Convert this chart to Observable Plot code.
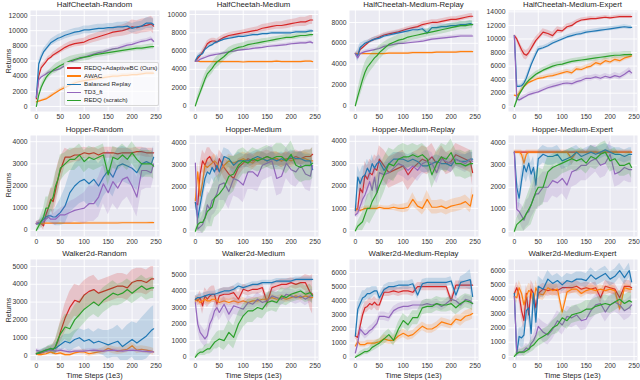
<!DOCTYPE html>
<html><head><meta charset="utf-8">
<script src="https://cdn.jsdelivr.net/npm/d3@7"></script>
<script src="https://cdn.jsdelivr.net/npm/@observablehq/plot@0.6"></script>
<style>
body{margin:0;background:#fff;font-family:"Liberation Sans",Arial,sans-serif;}
#chart{position:relative;width:640px;height:380px;overflow:hidden;background:#fff;}
.ttl{position:absolute;font-size:7.8px;line-height:9px;color:#262626;text-align:center;white-space:nowrap;}
.ylab{position:absolute;font-size:7px;color:#262626;white-space:nowrap;transform:translate(-50%,-50%) rotate(-90deg);}
.xlab{position:absolute;font-size:7.4px;line-height:9px;color:#262626;text-align:center;white-space:nowrap;}
#legend{position:absolute;left:64px;top:62px;width:93px;padding:1px 0;background:rgba(255,255,255,0.72);border:0.5px solid #d8d8d8;border-radius:2px;}
.li{height:8.1px;font-size:6.2px;line-height:8.1px;color:#262626;white-space:nowrap;position:relative;padding-left:19px;}
.li span{position:absolute;left:2px;top:3.4px;width:14px;height:1.4px;}
</style></head><body><div id="chart"></div>
<script>
const steps = [0,5,10,15,20,25,30,35,40,45,50,60,70,80,90,100,110,120,130,140,150,160,170,180,190,200,210,220,230,240,245];
const xTicks = [0,50,100,150,200,250];
const seriesNames = ["REDQ+AdaptiveBC (Ours)","AWAC","Balanced Replay","TD3_ft","REDQ (scratch)"];
const seriesColors = ["#d62728","#ff7f0e","#1f77b4","#9467bd","#2ca02c"];
const panelTitles = ["HalfCheetah-Random","HalfCheetah-Medium","HalfCheetah-Medium-Replay","HalfCheetah-Medium-Expert","Hopper-Random","Hopper-Medium","Hopper-Medium-Replay","Hopper-Medium-Expert","Walker2d-Random","Walker2d-Medium","Walker2d-Medium-Replay","Walker2d-Medium-Expert"];

// series order in each mean/sd list: Ours, AWAC, Balanced Replay, TD3_ft, REDQ (scratch)
const hcRandomMean = [
[1000,4000,5100,5500,5900,6300,6500,6800,7000,7200,7400,7800,8100,8300,8400,8500,8800,9000,9200,9400,9600,9800,9900,10000,10200,10500,10400,10600,10700,10900,10600],
[600,700,800,900,1000,1200,1400,1600,1800,2000,2200,2500,2800,3100,3300,3400,3500,3600,3700,3800,3900,4000,4000,4100,4100,4200,4200,4300,4400,4400,4400],
[1200,5600,6500,7200,7600,8000,8400,8600,8800,9000,9100,9400,9600,9800,9900,10100,10100,10200,10300,10300,10400,10400,10500,10500,10600,10300,10500,10600,11000,11000,10800],
[1200,3500,3900,4100,4300,4500,4600,4700,4800,4900,5000,5400,5800,6100,6300,6500,6700,6900,7100,7200,7400,7600,7700,7900,8100,8200,8400,8600,8700,8900,8600],
[0,1500,2500,3200,3800,4200,4500,4800,5000,5200,5400,5700,6000,6200,6400,6500,6600,6800,6900,7000,7100,7200,7300,7400,7500,7600,7700,7700,7800,7900,7900]];
const hcRandomSd = [
[200,300,300,300,300,300,300,350,350,400,400,400,450,450,500,500,550,550,600,600,650,700,700,750,800,900,900,900,950,1000,1000],
[100,100,100,150,150,150,200,200,200,200,200,200,200,250,250,250,250,250,250,250,250,250,250,250,250,250,250,250,250,250,250],
[200,400,400,400,400,400,450,450,450,450,500,500,500,500,500,500,500,550,550,550,550,550,600,600,600,650,650,650,700,700,700],
[100,200,200,200,200,200,200,200,200,200,250,250,250,250,250,250,250,250,250,250,250,250,250,250,250,250,250,250,250,300,300],
[100,300,400,400,500,500,500,500,600,600,600,600,600,550,500,500,500,450,400,400,400,400,350,350,350,350,350,350,350,350,350]];
const hcMediumMean = [
[4900,5200,5500,5900,6300,6800,7000,7100,7100,7000,7200,7500,7700,7800,7900,8000,8100,8200,8300,8500,8600,8700,8800,8800,8900,9000,9100,9200,9200,9400,9400],
[4900,4900,4850,4850,4850,4850,4850,4850,4850,4850,4850,4850,4850,4850,4850,4800,4850,4850,4850,4850,4850,4850,4900,4850,4850,4850,4850,4850,4900,4900,4850],
[4900,5400,5600,5700,6200,6400,6600,6700,6900,7000,7100,7300,7400,7500,7600,7600,7700,7800,7800,7900,7900,8000,8000,8000,8000,8000,8100,8100,8100,8200,8200],
[4900,4900,5100,5200,5300,5400,5500,5550,5600,5650,5700,5800,5900,6000,6100,6150,6200,6300,6350,6400,6500,6550,6600,6650,6700,6800,6850,6900,6900,7000,6900],
[0,800,1500,2200,2900,3500,3800,4100,4500,4800,5000,5400,5900,6200,6400,6500,6700,6800,6900,7000,7100,7200,7300,7400,7500,7500,7600,7700,7700,7800,7800]];
const hcMediumSd = [
[100,200,200,300,300,300,300,300,300,300,300,300,300,300,300,300,350,350,350,400,400,400,400,400,450,450,450,500,500,500,500],
[80,80,80,80,80,80,80,80,80,80,80,80,80,80,80,80,80,80,80,80,80,80,80,80,80,80,80,80,80,80,80],
[100,200,200,200,200,200,200,200,200,150,150,150,150,150,150,150,150,150,150,150,150,150,150,150,150,150,150,150,150,150,150],
[100,150,150,150,150,150,150,150,150,150,150,150,150,150,150,150,150,150,150,150,150,150,150,150,150,150,150,150,150,150,150],
[100,400,500,600,600,600,600,600,600,600,600,500,500,450,400,400,400,350,350,350,300,300,300,300,300,300,300,300,300,300,300]];
const hcReplayMean = [
[5000,4900,5400,5600,5800,6000,6200,6300,6400,6500,6600,6800,6900,7000,7100,7250,7400,7500,7600,7800,7900,8000,8000,8100,8200,8300,8300,8400,8500,8600,8600],
[5000,5000,5000,5000,5000,5000,5000,5000,5000,5000,5000,5000,5050,5050,5050,5050,5050,5100,5100,5100,5100,5100,5150,5150,5150,5150,5150,5200,5200,5200,5200],
[5000,4800,5600,5800,6000,6100,6200,6300,6400,6450,6500,6700,6800,6900,7000,7100,7200,7300,7300,7400,7000,7500,7500,7600,7600,7700,7700,7800,7800,7900,7800],
[5000,4600,5000,5100,5200,5250,5300,5350,5400,5450,5500,5700,5800,5900,6000,6000,6050,6100,6150,6200,6300,6400,6450,6500,6550,6600,6650,6700,6700,6700,6700],
[0,900,1700,2500,3200,3700,4000,4300,4600,4800,5100,5500,5900,6100,6300,6400,6600,6700,6800,6900,7000,7100,7200,7300,7400,7500,7600,7700,7700,7800,7800]];
const hcReplaySd = [
[100,300,200,200,200,200,200,200,200,200,200,200,200,200,200,200,200,200,200,250,250,250,250,250,250,250,250,250,250,250,250],
[80,80,80,80,80,80,80,80,80,80,80,80,80,80,80,80,80,80,80,80,80,80,80,80,80,80,80,80,80,80,80],
[100,600,400,300,250,200,200,200,200,200,200,200,200,200,200,200,200,200,200,200,250,250,250,250,250,250,250,250,250,250,250],
[100,300,150,150,150,150,150,150,150,150,150,150,150,150,150,150,150,150,150,150,150,150,150,150,150,150,150,150,150,150,150],
[100,600,800,900,900,900,800,800,800,700,700,600,500,500,500,450,450,400,400,400,400,400,400,400,400,400,400,400,400,400,400]];
const hcExpertMean = [
[10500,10000,9200,8400,7800,7600,8000,8600,9200,9800,10200,11000,10800,10500,11300,11200,11800,12000,12500,12800,12900,13000,13000,13100,13200,13100,13200,13300,13300,13300,13300],
[1700,1600,2000,2500,3000,3300,3600,3750,3900,4050,4200,4300,4500,4600,4800,5000,5200,5000,5600,5500,5800,6000,6500,6300,6800,6600,7000,6800,7200,7400,7500],
[10500,3000,3000,3100,3500,4200,5200,6200,7000,7800,8500,8700,9000,9400,9700,10000,10300,10500,10700,10800,11000,11100,11200,11300,11400,11500,11600,11700,11800,11700,11700],
[10500,1200,1000,1200,1400,1600,1800,1900,2000,2100,2200,2500,2800,3000,3200,3400,3500,3400,3700,3900,4200,4200,4400,4200,4500,4300,4600,4400,4800,5300,5000],
[0,1000,1800,2400,3000,3500,3900,4200,4500,4800,5000,5400,5700,6000,6200,6300,6500,6700,6800,6900,7000,7100,7200,7300,7400,7500,7600,7600,7700,7700,7700]];
const hcExpertSd = [
[200,400,500,600,700,700,600,600,600,500,500,500,500,500,500,400,400,400,300,300,300,300,250,250,250,250,250,250,250,250,250],
[200,200,300,300,300,300,300,300,300,300,300,300,300,300,300,300,350,350,350,350,350,400,400,400,400,400,400,400,400,400,400],
[200,200,200,300,300,400,400,400,400,400,400,300,300,300,300,300,300,300,300,300,300,300,300,300,300,300,300,300,300,300,300],
[200,300,300,300,300,300,300,300,300,300,300,300,300,350,350,350,350,350,400,400,400,400,400,400,400,400,450,450,450,450,450],
[100,300,400,400,400,400,400,400,400,400,400,400,400,400,400,400,400,400,400,400,400,450,450,450,450,450,450,450,450,450,450]];
const hopRandomMean = [
[300,350,300,200,700,1000,1400,1300,1800,2300,2700,3300,3300,3400,3400,3500,3450,3500,3400,3500,3500,3500,3450,3500,3500,3500,3550,3550,3500,3500,3500],
[300,310,300,310,320,320,320,320,320,320,320,320,320,320,320,330,330,330,330,330,330,330,330,340,340,340,340,340,340,350,350],
[300,300,400,500,600,650,650,600,600,700,800,1100,1700,2000,2200,2300,2100,2300,2000,2400,2700,2400,2900,3000,2900,2800,2600,3000,3100,3000,3300],
[300,350,350,400,500,600,500,500,500,600,700,700,800,900,950,1000,1200,1200,1500,2100,1700,2200,1900,2300,2400,2000,1500,2700,2700,2600,3000],
[0,200,400,600,1000,1000,1300,1500,2000,2300,2800,3000,3200,3200,3400,3100,3300,3200,3300,3400,2500,3300,3200,3400,3200,3500,3200,3000,3000,3000,2900]];
const hopRandomSd = [
[100,100,150,200,300,400,500,600,700,700,600,400,300,300,300,250,250,250,250,250,250,250,250,200,200,200,200,200,200,200,200],
[40,40,40,40,40,40,40,40,40,40,40,40,40,40,40,40,40,40,40,40,40,40,40,40,40,40,40,40,40,40,40],
[100,100,150,200,250,300,300,300,400,500,600,800,900,1000,1000,1000,1000,1000,1000,900,900,900,800,800,800,800,800,700,600,500,500],
[100,100,150,200,200,200,200,250,300,300,300,400,500,500,600,700,800,800,900,900,1000,1000,1000,1000,900,900,900,900,800,700,700],
[100,200,300,400,500,500,500,600,600,600,600,500,500,500,500,500,500,500,500,500,500,500,500,500,500,500,500,600,600,600,600]];
const hopMediumMean = [
[1300,1200,2600,3200,3000,3300,3400,3200,3100,2800,3300,2900,2600,2400,2900,3100,3300,3200,3300,3300,3400,3300,3300,3200,3300,3300,3400,3300,3400,3400,3500],
[1400,2700,1600,2200,3000,2900,3000,3100,3200,3100,2700,3000,3200,3100,3200,3300,3200,3100,3300,3300,3200,3300,3300,3200,3300,3200,3300,3300,3300,3200,3200],
[1300,600,1200,1800,2400,2700,2600,2900,2700,3000,2700,3400,3300,3000,3200,3200,3200,3300,3400,3300,3200,3300,3200,3300,3200,3400,3300,3300,3200,3200,2800],
[3100,100,200,300,600,1200,1000,1400,1500,1700,2100,2200,1800,2400,2300,2100,2700,2700,2500,3000,3100,3200,2400,2500,3100,2800,2700,3000,2600,2500,3000],
[0,300,400,400,600,900,1000,1100,1500,1600,1700,2000,2500,2600,3000,3200,3100,3300,3200,3300,3400,3300,3400,3400,3200,3500,3000,2900,3000,3000,3100]];
const hopMediumSd = [
[200,400,500,500,500,500,400,400,400,400,400,500,500,500,400,300,300,300,300,300,300,300,300,300,300,300,300,300,300,300,300],
[200,400,500,400,300,300,300,300,300,300,300,300,300,300,300,300,300,300,300,300,300,300,300,300,300,300,300,300,300,300,300],
[200,500,600,600,500,500,500,500,500,500,500,400,400,400,400,300,300,300,300,300,300,300,300,300,300,300,300,300,300,300,400],
[200,200,300,400,500,600,700,700,700,700,700,800,800,800,800,800,800,800,700,700,700,700,800,800,700,700,700,700,700,700,600],
[100,300,400,500,600,700,800,900,900,900,900,900,900,800,700,600,500,500,500,500,500,500,600,600,600,600,600,700,700,700,700]];
const hopReplayMean = [
[900,1000,1900,1700,2500,2300,2600,2500,2800,2700,3200,2900,2600,2700,2800,2900,2500,2800,3000,3200,3100,3300,3000,3300,3000,3100,3400,3300,3200,3100,2600],
[1000,950,900,950,1000,1000,1000,1000,1000,1000,1050,1000,1000,1050,1000,1000,1050,1400,1100,1000,1400,1050,1050,1100,1000,1100,1150,1200,1300,1100,1600],
[900,2400,2100,2400,2500,2800,2600,3000,2800,3000,3100,2700,3000,3200,3200,3200,3100,3200,3100,2900,2900,3000,3100,3000,3000,2900,3200,3100,3100,3200,3200],
[700,800,1100,1400,1600,1900,2200,1800,2400,1700,2600,2500,2600,2800,3000,2900,2700,2900,2700,3000,3100,3000,2600,3200,3100,3000,3200,3100,3000,3200,3100],
[0,200,300,400,700,1000,1000,1300,1500,1700,2000,2500,3000,2900,3200,3300,3300,3400,3300,3400,3200,2500,3000,3300,3200,3500,3000,3000,2900,3000,3000]];
const hopReplaySd = [
[200,300,500,600,600,600,600,600,600,600,600,700,700,700,700,700,700,700,600,600,600,600,500,500,500,500,500,500,500,500,600],
[100,100,100,100,100,100,100,100,100,100,100,100,100,150,150,200,200,300,200,300,400,300,300,300,300,300,300,300,300,300,400],
[200,500,500,500,400,400,400,400,300,300,300,300,300,300,300,300,300,300,300,300,300,300,300,300,300,300,300,300,300,300,300],
[100,200,300,400,400,500,500,500,500,500,500,500,500,500,500,500,500,500,500,500,500,500,500,500,400,400,400,400,400,400,400],
[100,200,300,400,500,600,700,800,800,800,800,800,700,700,600,600,500,500,500,500,500,600,600,600,600,600,600,600,600,600,600]];
const hopExpertMean = [
[3600,3600,3600,3600,3600,3600,3600,3600,3600,3600,3600,3600,3600,3600,3600,3600,3600,3600,3600,3600,3600,3600,3600,3550,3600,3600,3600,3600,3600,3600,3600],
[3600,3600,3600,3500,3100,3500,3600,3600,3600,3600,3600,3600,3600,3600,3600,3600,3600,3300,3600,3600,3600,3600,3600,3600,3600,3600,3600,3600,3600,3600,3600],
[3600,2000,1500,2300,3000,2700,3100,2600,2900,2100,3300,3500,3400,3400,3500,3200,3300,3400,3600,3400,3500,3600,3500,3600,3700,3600,3500,3500,3400,3500,3500],
[3600,1000,900,700,500,800,900,1200,1500,1700,1700,2000,2000,2300,2200,2400,2100,2700,2800,3000,3000,3200,3300,3000,3100,3500,2600,2700,2900,2800,2800],
[0,300,400,500,600,800,1000,1200,1500,1800,2000,2000,2700,2900,3000,3100,3200,3300,3200,3300,3100,3400,3300,3500,3600,3200,3300,3000,3000,3100,2900]];
const hopExpertSd = [
[60,60,60,60,60,60,60,60,60,60,60,60,60,60,60,60,60,60,60,60,60,60,60,60,60,60,60,60,60,60,60],
[100,100,100,200,400,200,100,100,100,100,100,100,100,100,100,100,100,300,100,100,100,100,100,100,100,100,100,100,100,100,100],
[100,400,500,500,500,500,500,500,500,500,400,400,400,400,400,400,400,400,300,300,300,300,300,300,300,300,300,300,300,300,300],
[100,300,400,500,500,600,600,600,700,700,700,700,700,700,700,700,700,700,700,700,700,700,600,600,600,600,600,600,600,600,600],
[100,300,400,500,600,700,800,900,900,900,900,800,700,600,600,500,500,500,500,500,500,500,500,500,500,500,500,500,500,500,500]];
const walkRandomMean = [
[100,100,150,200,250,300,300,350,500,800,1300,2100,2700,3100,3000,3400,3600,3700,3500,3600,3700,3800,3900,3900,3800,4100,4200,4200,4100,4300,4300],
[100,50,50,80,100,150,200,150,100,120,150,50,50,150,200,200,100,150,200,250,400,300,250,300,350,550,300,350,300,250,200],
[100,150,200,250,300,320,350,380,400,500,600,800,700,900,1000,800,900,700,800,700,600,700,800,500,700,900,700,900,1100,1400,1500],
[300,250,200,220,250,280,300,280,250,270,300,250,200,250,250,250,280,300,270,250,280,300,270,250,280,300,280,250,230,200,200],
[100,150,200,250,300,350,400,350,500,900,1200,1600,1500,2000,2300,2600,2800,3000,2800,3100,3300,3500,3400,3500,3700,3500,3700,3900,3700,3800,3800]];
const walkRandomSd = [
[100,100,100,150,150,200,200,300,400,500,600,800,900,900,900,800,800,800,700,700,700,700,700,700,700,700,700,700,700,700,700],
[100,100,100,100,100,100,100,100,100,100,100,100,100,100,100,150,150,150,150,200,200,200,200,200,200,200,200,200,200,200,200],
[100,100,150,150,150,200,200,200,300,300,400,400,500,500,500,600,600,600,700,700,800,800,900,900,1000,1000,1100,1200,1300,1300,1300],
[100,100,100,100,100,100,100,100,100,100,100,100,100,100,100,100,100,100,100,100,100,100,100,100,100,100,100,100,100,100,100],
[100,100,100,150,150,200,200,300,400,500,600,700,800,800,800,800,700,700,700,700,700,700,600,600,600,600,600,600,600,600,600]];
const walkMediumMean = [
[3500,3400,3600,3100,3700,3500,3700,3800,3800,3200,3700,3800,3800,3900,3500,4100,4000,4100,4100,4200,3300,4200,4300,4400,4400,4500,4400,4500,4500,3900,3800],
[3400,3500,3300,3400,3500,3400,3400,3500,3500,3400,3300,3400,3300,3400,3300,3400,3300,3400,3400,3500,3500,3600,3500,3600,3500,3600,3700,3600,3700,3600,3600],
[3500,3600,3600,3650,3700,3750,3800,3800,3800,3850,3900,4000,4000,4100,4300,4200,4300,4400,4400,4500,4500,4500,4600,4600,4600,4600,4700,4700,4700,4700,4700],
[3300,2000,1500,1300,1100,1300,2000,2300,2800,3000,2700,3200,2600,3100,3000,2900,3300,3200,3500,3300,3400,3700,3600,3500,3800,3700,3600,3700,3500,3700,3700],
[0,200,300,300,400,500,500,700,900,1000,1100,1000,1500,1200,2000,2500,2800,2800,3000,2900,3300,3400,3300,3700,3600,3800,3900,4000,3800,3900,3700]];
const walkMediumSd = [
[200,300,400,500,500,500,500,500,500,500,400,400,400,400,400,300,300,300,300,300,400,300,300,300,300,300,300,300,500,1000,1200],
[200,200,200,200,200,200,200,200,200,200,200,200,200,200,200,200,200,200,200,200,200,200,200,200,200,200,200,200,200,200,200],
[200,200,200,200,200,200,200,200,200,200,200,200,200,200,200,150,150,150,150,150,150,150,150,150,150,150,150,150,150,150,150],
[200,400,500,500,500,500,500,500,500,500,500,500,500,500,500,500,400,400,400,400,400,400,400,400,400,400,400,400,400,400,400],
[100,200,200,200,300,300,300,400,400,500,500,600,700,700,700,700,700,700,600,600,600,600,600,500,500,500,500,500,500,500,500]];
const walkReplayMean = [
[1500,1400,2200,3000,3500,3600,3800,3700,3900,3700,3700,4600,4600,4700,4600,4700,4700,4600,5000,5000,5000,5000,5000,5000,5000,4000,5100,5100,5100,5100,5100],
[800,1100,900,900,900,1000,1000,1000,1000,1050,1100,1300,1200,1200,1500,1700,1500,1600,1900,2200,2000,2000,2200,2500,2400,2300,2700,2600,2900,3000,3100],
[1500,3400,3800,4200,4300,4500,4500,4600,4700,4700,4200,4800,5000,5000,5100,5100,5100,5200,4400,5200,5300,5300,5300,5300,5300,5400,4400,5300,5400,5500,4300],
[300,1000,2000,1800,1600,1700,1900,2000,2200,2400,2900,2900,2800,3300,3500,3600,3600,3700,3700,3700,3800,3700,3800,3600,3800,4100,4000,3700,4100,4000,3800],
[0,100,200,300,400,400,500,700,800,900,1000,1300,1600,1200,2000,2600,2300,2800,2800,3500,3600,3600,3800,3700,3700,3800,3500,3800,4000,3900,3800]];
const walkReplaySd = [
[200,300,400,400,400,400,400,400,400,400,400,300,300,300,300,300,300,300,300,300,300,300,300,300,300,300,300,300,300,300,300],
[100,200,200,200,200,200,200,200,200,200,200,300,300,300,300,300,300,300,300,300,300,300,300,300,300,300,300,400,400,400,400],
[200,500,500,500,400,400,400,400,300,300,300,300,300,300,300,300,300,300,300,300,300,300,300,300,300,300,300,400,500,700,900],
[100,300,300,300,300,300,300,300,300,300,300,300,300,300,300,300,300,300,300,300,300,300,300,300,300,300,300,300,300,300,300],
[100,100,200,200,200,200,200,300,300,300,300,400,400,400,500,500,500,500,500,500,500,500,500,500,500,500,500,500,500,500,500]];
const walkExpertMean = [
[4400,4800,4300,3200,2500,4400,2900,4700,4400,3400,4400,4700,4600,4700,4600,4800,4800,4800,4900,4700,4800,4700,4800,4100,4900,4800,4700,4100,4900,4900,4800],
[4200,4100,4800,4400,3600,4200,4600,4500,3700,4800,4400,4300,4800,4600,4700,3100,4500,4700,4700,4400,4600,4700,4600,4700,4600,4700,4600,3300,4800,4700,4700],
[4400,200,1400,1300,1500,3200,3400,1600,4400,2400,4900,4700,5400,5100,5300,5000,5300,5200,5400,5400,5300,5700,5400,5600,5800,5400,5600,6000,5500,6000,5200],
[4200,300,300,300,400,600,500,900,1100,1500,2100,1700,1500,1900,2500,2200,2800,2700,2900,2500,2600,3200,3600,3700,3100,3600,3800,3600,3200,3400,3600],
[0,200,300,300,300,400,500,700,800,1000,1200,1400,1600,2000,2200,2700,2500,2900,3000,3100,3300,3300,3500,3600,3700,3600,3800,4000,3700,3900,3800]];
const walkExpertSd = [
[300,400,500,600,600,600,600,600,600,500,500,400,400,400,400,400,400,400,400,400,400,400,400,400,400,400,400,400,400,400,400],
[300,400,500,500,500,500,500,500,500,500,400,400,400,400,400,400,300,300,300,300,300,300,300,300,300,300,300,300,300,300,300],
[300,500,600,700,800,800,800,800,800,700,700,600,600,500,500,500,500,500,500,500,500,500,500,500,500,500,500,500,500,500,500],
[300,300,300,300,300,300,300,400,400,500,600,700,700,700,700,700,700,700,700,700,700,700,700,700,700,700,700,700,700,700,700],
[100,200,200,200,300,300,300,400,400,400,500,500,500,500,600,600,600,600,600,600,600,600,600,600,600,600,600,600,600,600,600]];

const yTicksHcR = [0,2000,4000,6000,8000,10000,12000];
const yTicksHcM = [0,2000,4000,6000,8000,10000];
const yTicksHcMR = [0,2000,4000,6000,8000];
const yTicksHcME = [0,2000,4000,6000,8000,10000,12000,14000];
const yTicksHop = [0,1000,2000,3000,4000];
const yTicksWalk5 = [0,1000,2000,3000,4000,5000];
const yTicksWalk6 = [0,1000,2000,3000,4000,5000,6000];

const panels = [
 {mean: hcRandomMean, sd: hcRandomSd, ticks: yTicksHcR, domain: [-660, 12660]},
 {mean: hcMediumMean, sd: hcMediumSd, ticks: yTicksHcM, domain: [-620, 10440]},
 {mean: hcReplayMean, sd: hcReplaySd, ticks: yTicksHcMR, domain: [-550, 9150]},
 {mean: hcExpertMean, sd: hcExpertSd, ticks: yTicksHcME, domain: [-700, 14200]},
 {mean: hopRandomMean, sd: hopRandomSd, ticks: yTicksHop, domain: [-280, 4280]},
 {mean: hopMediumMean, sd: hopMediumSd, ticks: yTicksHop, domain: [-240, 4355]},
 {mean: hopReplayMean, sd: hopReplaySd, ticks: yTicksHop, domain: [-260, 4260]},
 {mean: hopExpertMean, sd: hopExpertSd, ticks: yTicksHop, domain: [-240, 4355]},
 {mean: walkRandomMean, sd: walkRandomSd, ticks: yTicksWalk5, domain: [-280, 5390]},
 {mean: walkMediumMean, sd: walkMediumSd, ticks: yTicksWalk5, domain: [-200, 5900]},
 {mean: walkReplayMean, sd: walkReplaySd, ticks: yTicksWalk6, domain: [-230, 6920]},
 {mean: walkExpertMean, sd: walkExpertSd, ticks: yTicksWalk6, domain: [-280, 6770]}
];

const chart = document.getElementById("chart");
const colLeft = [30, 189, 349, 508];
const rowTop = [10, 134.5, 259];
const plotW = 129, plotH = 101;
const mL = 40, mR = 3, mT = 3, mB = 16;
const FONT = '"Liberation Sans", Arial, sans-serif';

panels.forEach((p, i) => {
  const r = Math.floor(i / 4), c = i % 4;
  const marks = [
    Plot.frame({fill: "#EAEAF2", stroke: "none"}),
    Plot.ruleX(xTicks, {stroke: "#ffffff", strokeWidth: 0.9}),
    Plot.ruleY(p.ticks, {stroke: "#ffffff", strokeWidth: 0.9})
  ];
  p.mean.forEach((m, k) => {
    const data = steps.map((x, j) => ({x, y: m[j], lo: m[j] - p.sd[k][j], hi: m[j] + p.sd[k][j]}));
    marks.push(Plot.areaY(data, {x: "x", y1: "lo", y2: "hi", fill: seriesColors[k], fillOpacity: 0.2, clip: true}));
    marks.push(Plot.lineY(data, {x: "x", y: "y", stroke: seriesColors[k], strokeWidth: 1.2, clip: true}));
  });
  const svg = Plot.plot({
    width: mL + plotW + mR, height: mT + plotH + mB,
    marginLeft: mL, marginRight: mR, marginTop: mT, marginBottom: mB,
    style: {background: "transparent", fontSize: "6.8px", fontFamily: FONT, color: "#333", overflow: "visible"},
    x: {domain: [-12.25, 257.25], ticks: xTicks, tickSize: 0, tickPadding: 2.5, label: null, tickFormat: d => String(d)},
    y: {domain: p.domain, ticks: p.ticks, tickSize: 0, tickPadding: 3, label: null, tickFormat: d => String(d)},
    marks
  });
  svg.style.position = "absolute";
  svg.style.left = (colLeft[c] - mL) + "px";
  svg.style.top = (rowTop[r] - mT) + "px";
  svg.style.maxWidth = "none";
  chart.appendChild(svg);

  const t = document.createElement("div");
  t.className = "ttl";
  t.textContent = panelTitles[i];
  t.style.left = colLeft[c] + "px";
  t.style.width = plotW + "px";
  t.style.top = (rowTop[r] - 10) + "px";
  chart.appendChild(t);
});

rowTop.forEach(top => {
  const y = document.createElement("div");
  y.className = "ylab";
  y.textContent = "Returns";
  y.style.left = "8px";
  y.style.top = (top + plotH / 2) + "px";
  chart.appendChild(y);
});
colLeft.forEach(left => {
  const x = document.createElement("div");
  x.className = "xlab";
  x.textContent = "Time Steps (1e3)";
  x.style.left = left + "px";
  x.style.width = plotW + "px";
  x.style.top = "371px";
  chart.appendChild(x);
});

const lg = document.createElement("div");
lg.id = "legend";
seriesNames.forEach((n, k) => {
  const row = document.createElement("div");
  row.className = "li";
  const sw = document.createElement("span");
  sw.style.background = seriesColors[k];
  row.appendChild(sw);
  row.appendChild(document.createTextNode(n));
  lg.appendChild(row);
});
chart.appendChild(lg);
</script></body></html>
